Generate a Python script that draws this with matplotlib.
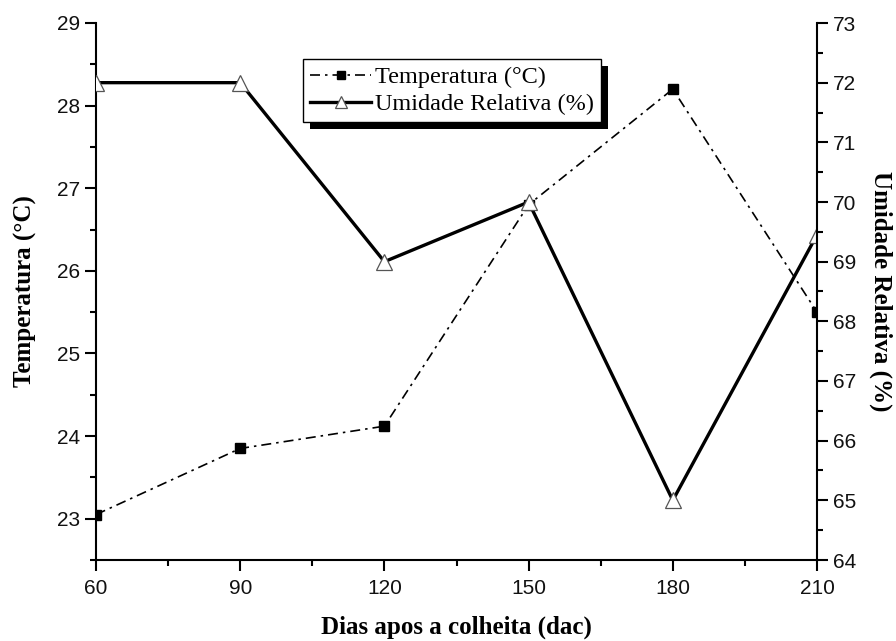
import matplotlib
matplotlib.use("Agg")
import matplotlib.pyplot as plt
from matplotlib.patches import Rectangle
from matplotlib.ticker import MultipleLocator

dias = [60, 90, 120, 150, 180, 210]
temperatura = [23.05, 23.85, 24.12, 26.8, 28.2, 25.5]
umidade = [72, 72, 69, 70, 65, 69.45]
xticks = [60, 90, 120, 150, 180, 210]
yticks_left = [23, 24, 25, 26, 27, 28, 29]
yticks_right = [64, 65, 66, 67, 68, 69, 70, 71, 72, 73]

plt.rcParams['font.family'] = ['Liberation Sans', 'DejaVu Sans']
serif = ['Liberation Serif', 'DejaVu Serif']

fig = plt.figure(figsize=(8.96, 6.41), dpi=100)
ax = fig.add_axes([96/896, 1-560/641, (817-96)/896, (560-23)/641])
ax2 = ax.twinx()

l1, = ax.plot(dias, temperatura, color='black', lw=1.2, ls=(0, (6, 3, 1.5, 3)),
              marker='s', ms=7, mfc='black', mec='black', label='Temperatura (°C)')
l2, = ax2.plot(dias, umidade, color='black', lw=2.4, ls='-',
               marker='^', ms=11, mfc='white', mec='#555555', mew=0.9,
               label='Umidade Relativa (%)')

ax.set_xlim(60, 210)
ax.set_ylim(22.5, 29)
ax2.set_ylim(64, 73)
ax.set_xticks(xticks)
ax.set_yticks(yticks_left)
ax2.set_yticks(yticks_right)
ax.xaxis.set_minor_locator(MultipleLocator(15))
ax.yaxis.set_minor_locator(MultipleLocator(0.5))
ax2.yaxis.set_minor_locator(MultipleLocator(0.5))

for s in ['top', 'right']:
    ax.spines[s].set_visible(False)
for s in ['top', 'left', 'bottom']:
    ax2.spines[s].set_visible(False)
for a in (ax, ax2):
    for s in a.spines.values():
        s.set_linewidth(1.5)
    a.tick_params(which='major', direction='out', length=8, width=1.5,
                  labelsize=15, labelcolor='#111111')
    a.tick_params(which='minor', direction='out', length=4, width=1.5)
ax.tick_params(axis='x', pad=6)

ax.set_xlabel('Dias apos a colheita (dac)', fontsize=18, fontweight='bold',
              family=serif, labelpad=12)
ax.set_ylabel('Temperatura (°C)', fontsize=18, fontweight='bold',
              family=serif, labelpad=14)
ax2.set_ylabel('Umidade Relativa (%)', fontsize=18, fontweight='bold',
               family=serif, rotation=270, labelpad=26)

leg = ax2.legend(handles=[l1, l2], loc='upper left',
                 bbox_to_anchor=(303/896, 1-59/641), bbox_transform=fig.transFigure,
                 borderaxespad=0, fancybox=False, framealpha=1, edgecolor='black',
                 prop={'family': serif, 'size': 17.5}, numpoints=1, markerscale=0.8,
                 handlelength=2.5, handletextpad=0.15, borderpad=0.3,
                 labelspacing=0.2)
leg.get_frame().set_linewidth(1.0)
leg.set_zorder(6)

fig.canvas.draw()
bb = leg.get_window_extent()
shadow = Rectangle((bb.x0 + 7, bb.y0 - 7), bb.width, bb.height, transform=None,
                   facecolor='black', edgecolor='none', zorder=5.5)
ax2.add_artist(shadow)

fig.savefig('out.png', dpi=100)
